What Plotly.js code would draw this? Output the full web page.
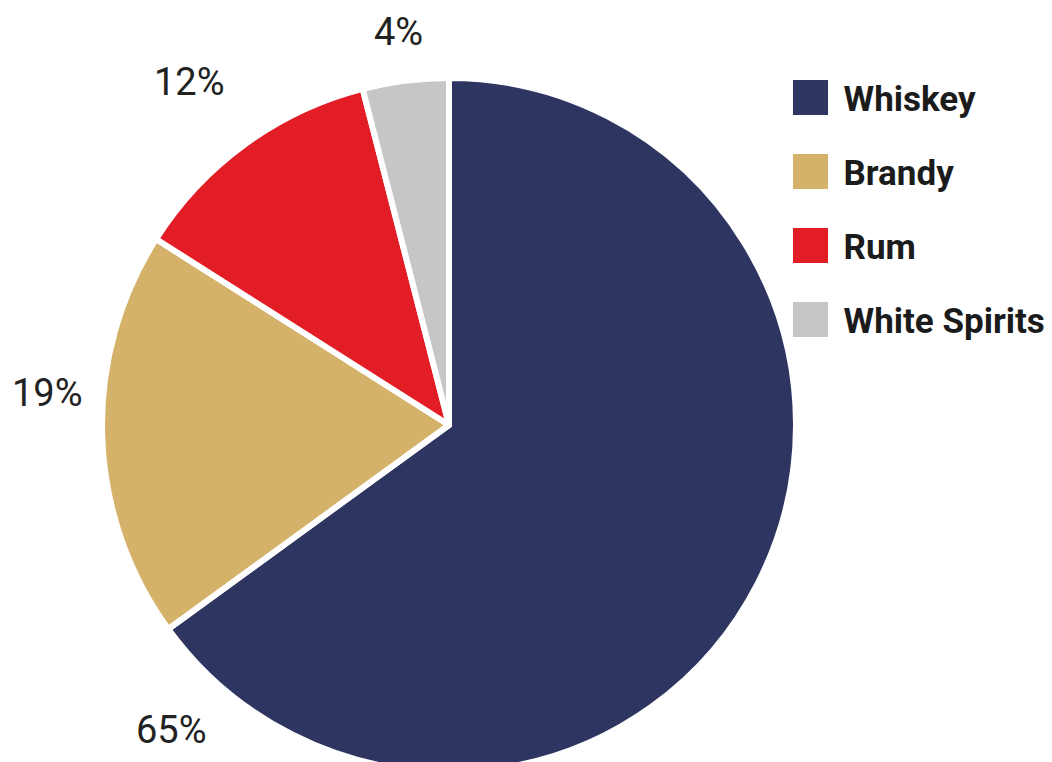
<!DOCTYPE html>
<html>
<head>
<meta charset="utf-8">
<script src="https://cdn.plot.ly/plotly-3.0.1.min.js"></script>
<style>
html,body{margin:0;padding:0;background:#fff;overflow:hidden;width:1052px;height:762px;}
#chart{width:1052px;height:780px;}
</style>
</head>
<body>
<div id="chart"></div>
<script>
// Data
var categories = ["Whiskey", "Brandy", "Rum", "White Spirits"];
var shares = [65, 19, 12, 4];
var sliceColors = ["#2e3561", "#d5b26a", "#e31d25", "#c6c6c8"];

// Label placement (pixel positions) for the percentage labels
var labelX = [171, 47, 189, 398];
var labelY = [730, 393, 82, 32];

var W = 1052, H = 780;

var trace = {
  type: "pie",
  labels: categories,
  values: shares,
  sort: false,
  direction: "clockwise",
  rotation: 0,
  textinfo: "none",
  hoverinfo: "label+percent",
  marker: { colors: sliceColors, line: { color: "#ffffff", width: 6 } },
  domain: { x: [102 / W, 796 / W], y: [(H - 772) / H, (H - 78) / H] },
  automargin: false
};

var annotations = shares.map(function (v, i) {
  return {
    text: v + "%",
    x: labelX[i] / W,
    y: 1 - labelY[i] / H,
    xref: "paper", yref: "paper",
    xanchor: "center", yanchor: "middle",
    showarrow: false,
    font: { family: "Roboto", size: 38, color: "#222222" }
  };
});

var layout = {
  width: W, height: H,
  margin: { l: 0, r: 0, t: 0, b: 0 },
  paper_bgcolor: "#ffffff",
  showlegend: true,
  legend: {
    x: 790 / W, y: 1 - 80 / H, xanchor: "left", yanchor: "top",
    bgcolor: "rgba(0,0,0,0)", borderwidth: 0,
    font: { family: "Roboto", size: 35, weight: 700, color: "#1b1b1b" }
  },
  annotations: annotations
};

Plotly.newPlot("chart", [trace], layout, { displayModeBar: false, staticPlot: true }).then(function () {
  var legend = document.querySelector(".legend");
  if (!legend) return;
  legend.setAttribute("transform", "translate(790.5, 97.5)");
  var sb = legend.querySelector(".scrollbox");
  if (sb) sb.removeAttribute("clip-path");
  legend.removeAttribute("clip-path");
  var items = legend.querySelectorAll(".traces");
  items.forEach(function (it, i) {
    it.setAttribute("transform", "translate(0," + (i * 74) + ")");
    var pts = it.querySelector(".legendpoints");
    if (pts) {
      pts.querySelectorAll("path").forEach(function (p) {
        p.setAttribute("transform", "translate(20,0) scale(2.92)");
        p.style.strokeWidth = "0";
      });
    }
    var txt = it.querySelector("text.legendtext");
    if (txt) {
      txt.setAttribute("x", "53");
      txt.querySelectorAll("tspan").forEach(function (t) { if (t.hasAttribute("x")) t.setAttribute("x", "53"); });
    }
    var bg = it.querySelector(".legendtoggle");
    if (bg) bg.style.display = "none";
  });
});
</script>
</body>
</html>
